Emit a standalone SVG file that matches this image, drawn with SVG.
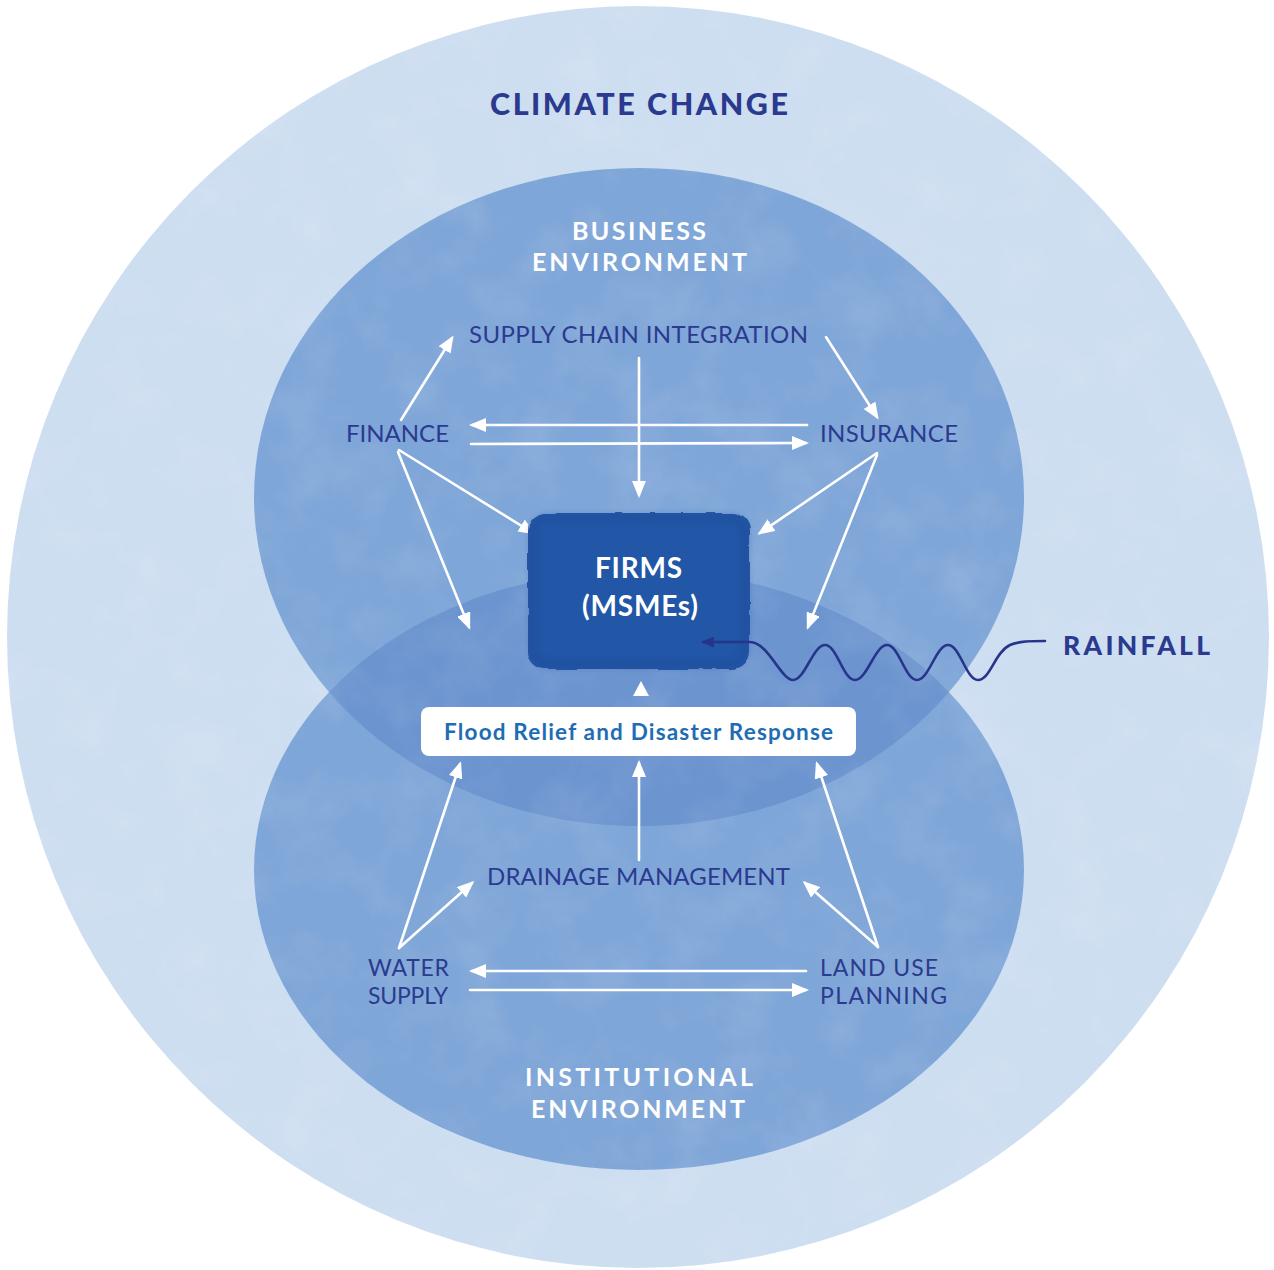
<svg xmlns="http://www.w3.org/2000/svg" width="1274" height="1270" viewBox="0 0 1274 1270">
  <style>
    .title { font-family: Lato, "Open Sans", "Liberation Sans", sans-serif; font-weight: 900; fill: #2b3a8f; }
    .env { font-family: Lato, "Open Sans", "Liberation Sans", sans-serif; font-weight: 700; font-size: 25px; fill: #ffffff; }
    .lbl { font-family: Lato, "Open Sans", "Liberation Sans", sans-serif; font-weight: 400; font-size: 24px; fill: #2b3a8f; }
    .lbl2 { font-family: Lato, "Open Sans", "Liberation Sans", sans-serif; font-weight: 400; font-size: 23px; fill: #2b3a8f; }
    .firm { font-family: Lato, "Open Sans", "Liberation Sans", sans-serif; font-weight: 700; font-size: 28px; fill: #ffffff; }
    .relief { font-family: Lato, "Open Sans", "Liberation Sans", sans-serif; font-weight: 700; font-size: 22.5px; fill: #1e6db4; }
    .link { fill: none; stroke: #ffffff; stroke-width: 2.6; stroke-linecap: round; marker-end: url(#head); }
  </style>
  <defs>
    <marker id="head" markerUnits="userSpaceOnUse" markerWidth="17" markerHeight="14" viewBox="0 0 17 14" refX="14" refY="7" orient="auto">
      <path d="M0,0 L17,7 L0,14 z" fill="#ffffff"/>
    </marker>
    <marker id="rainHead" markerUnits="userSpaceOnUse" markerWidth="13" markerHeight="11" viewBox="0 0 13 11" refX="11" refY="5.5" orient="auto">
      <path d="M0,0 L13,5.5 L0,11 z" fill="#27348b"/>
    </marker>
    <clipPath id="outerClip"><circle cx="638" cy="637" r="631"/></clipPath>
    <clipPath id="topClip"><ellipse cx="639" cy="497" rx="385" ry="329"/></clipPath>
    <!-- soft paper grain over the washes -->
    <filter id="grain" x="0" y="0" width="100%" height="100%">
      <feTurbulence type="fractalNoise" baseFrequency="0.018" numOctaves="5" seed="7" result="n"/>
      <feColorMatrix in="n" type="matrix" values="0 0 0 0 1  0 0 0 0 1  0 0 0 0 1  1.4 0 0 0 -0.58"/>
    </filter>
    <!-- ragged watercolour edge for the firms block -->
    <filter id="wash" x="-5%" y="-5%" width="110%" height="110%">
      <feTurbulence type="fractalNoise" baseFrequency="0.05" numOctaves="2" seed="4" result="t"/>
      <feDisplacementMap in="SourceGraphic" in2="t" scale="4" xChannelSelector="R" yChannelSelector="G"/>
    </filter>
    <filter id="soft" x="-10%" y="-10%" width="120%" height="120%">
      <feGaussianBlur stdDeviation="3"/>
    </filter>
  </defs>

  <rect width="1274" height="1270" fill="#ffffff"/>

  <g id="climate-change">
    <circle cx="638" cy="637" r="631" fill="#cddef1"/>
  </g>

  <g id="business-environment">
    <ellipse cx="639" cy="497" rx="385" ry="329" fill="#7fa6d8"/>
  </g>

  <g id="institutional-environment">
    <ellipse cx="639" cy="870" rx="385" ry="300" fill="#7fa6d8"/>
    <ellipse cx="639" cy="870" rx="385" ry="300" fill="#6c94cf" clip-path="url(#topClip)"/>
  </g>

  <g clip-path="url(#outerClip)" opacity="0.16">
    <rect width="1274" height="1270" filter="url(#grain)"/>
  </g>

  <g id="labels-outer">
    <text class="title" x="490" y="115" font-size="30.5" textLength="298" lengthAdjust="spacing">CLIMATE CHANGE</text>
    <text class="env" x="572" y="240" textLength="134" lengthAdjust="spacing">BUSINESS</text>
    <text class="env" x="532" y="271" textLength="215" lengthAdjust="spacing">ENVIRONMENT</text>
    <text class="env" x="525" y="1086" textLength="228" lengthAdjust="spacing">INSTITUTIONAL</text>
    <text class="env" x="531" y="1118" textLength="214" lengthAdjust="spacing">ENVIRONMENT</text>
  </g>

  <g id="connectors">
    <!-- business environment -->
    <path class="link" d="M401,420 L452,338"/>
    <path class="link" d="M826,337 L877,417"/>
    <path class="link" d="M807,425 L472,425"/>
    <path class="link" d="M471,444 L806,443"/>
    <path class="link" d="M639,358 L639,495"/>
    <path class="link" d="M399,450 L533,533"/>
    <path class="link" d="M398,452 L469,627"/>
    <path class="link" d="M877,453 L760,533"/>
    <path class="link" d="M877,455 L808,627"/>
    <!-- institutional environment -->
    <path class="link" d="M399,948 L460,764"/>
    <path class="link" d="M399,948 L472,883"/>
    <path class="link" d="M639,860 L639,763"/>
    <path class="link" d="M878,947 L817,764"/>
    <path class="link" d="M878,947 L805,883"/>
    <path class="link" d="M806,971 L472,971"/>
    <path class="link" d="M470,990 L806,990"/>
    <!-- relief feeding into firms -->
    <polygon points="641,681 649,696 633,696" fill="#ffffff"/>
  </g>

  <g id="firms">
    <rect x="528" y="513" width="222" height="156" rx="18" fill="#2356a6" filter="url(#wash)"/>
    <rect x="533" y="518" width="212" height="146" rx="15" fill="none" stroke="#1b4897" stroke-width="6" opacity="0.45" filter="url(#soft)"/>
    <text class="firm" x="595" y="578" textLength="87" lengthAdjust="spacing">FIRMS</text>
    <text class="firm" x="582" y="616" textLength="116" lengthAdjust="spacing">(MSMEs)</text>
  </g>

  <g id="flood-relief">
    <rect x="421" y="707" width="435" height="49" rx="8" fill="#ffffff"/>
    <text class="relief" x="444" y="740" textLength="389" lengthAdjust="spacing">Flood Relief and Disaster Response</text>
  </g>

  <g id="supply-chain"><text class="lbl" x="469" y="343" textLength="339" lengthAdjust="spacing">SUPPLY CHAIN INTEGRATION</text></g>
  <g id="finance"><text class="lbl" x="346" y="442" textLength="103" lengthAdjust="spacing">FINANCE</text></g>
  <g id="insurance"><text class="lbl" x="820" y="442" textLength="138" lengthAdjust="spacing">INSURANCE</text></g>
  <g id="drainage"><text class="lbl" x="487" y="885" textLength="303" lengthAdjust="spacing">DRAINAGE MANAGEMENT</text></g>
  <g id="water-supply">
    <text class="lbl2" x="368" y="976" textLength="81" lengthAdjust="spacing">WATER</text>
    <text class="lbl2" x="368" y="1004" textLength="80" lengthAdjust="spacing">SUPPLY</text>
  </g>
  <g id="land-use">
    <text class="lbl2" x="820" y="976" textLength="118" lengthAdjust="spacing">LAND USE</text>
    <text class="lbl2" x="820" y="1004" textLength="127" lengthAdjust="spacing">PLANNING</text>
  </g>

  <g id="rainfall">
    <path d="M1045,641 C1030,641 1020,641 1010,645 C995,652 990,680 978,680 C966,680 960,645 948,645 C936,645 929,680 917,680 C905,680 899,645 887,645 C875,645 867,680 855,680 C843,680 837,645 825,645 C813,645 805,680 793,680 C781,680 768,642 750,642 L703,642" fill="none" stroke="#27348b" stroke-width="2.6" stroke-linecap="round" marker-end="url(#rainHead)"/>
    <text class="title" x="1063" y="655" font-size="26.5" textLength="147" lengthAdjust="spacing">RAINFALL</text>
  </g>
</svg>
